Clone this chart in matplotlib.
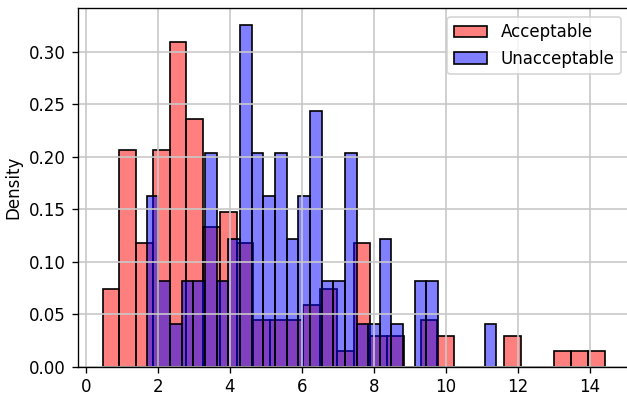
import numpy as np
import matplotlib
matplotlib.use("Agg")
import matplotlib.pyplot as plt

# bar counts per bin (30 bins each)
acceptable_counts = [5, 14, 8, 14, 21, 16, 9, 10, 8, 3,
                     3, 3, 4, 5, 1, 8, 2, 2, 0, 3,
                     2, 0, 0, 0, 2, 0, 0, 1, 1, 1]
unacceptable_counts = [4, 2, 1, 2, 2, 5, 2, 3, 8, 5,
                       4, 5, 3, 4, 6, 2, 2, 5, 1, 1,
                       3, 1, 0, 2, 2, 0, 0, 0, 0, 1]
acceptable_range = (0.47, 14.40)
unacceptable_range = (1.69, 11.40)
labels = ["Acceptable", "Unacceptable"]

fig = plt.figure(figsize=(627 / 120, 396 / 120), dpi=120)
ax = fig.add_axes([77.6 / 627, 1 - 366.5 / 396, (629.6 - 77.6) / 627, (366.5 - 8.3) / 396])

edges_a = np.linspace(*acceptable_range, len(acceptable_counts) + 1)
edges_u = np.linspace(*unacceptable_range, len(unacceptable_counts) + 1)
mid_a = (edges_a[:-1] + edges_a[1:]) / 2
mid_u = (edges_u[:-1] + edges_u[1:]) / 2

ax.hist(mid_a, bins=edges_a, weights=acceptable_counts, density=True,
        facecolor=(1, 0, 0, 0.5), edgecolor="black", linewidth=1.0, label=labels[0])
ax.hist(mid_u, bins=edges_u, weights=unacceptable_counts, density=True,
        facecolor=(0, 0, 1, 0.5), edgecolor="black", linewidth=1.0, label=labels[1])

ax.set_ylabel("Density")
ax.set_xticks(np.arange(0, 15, 2))
ax.grid(True, color="#c8c8c8", linewidth=1.0)
ax.legend(loc="upper right")

fig.savefig("out.png", dpi=120)
